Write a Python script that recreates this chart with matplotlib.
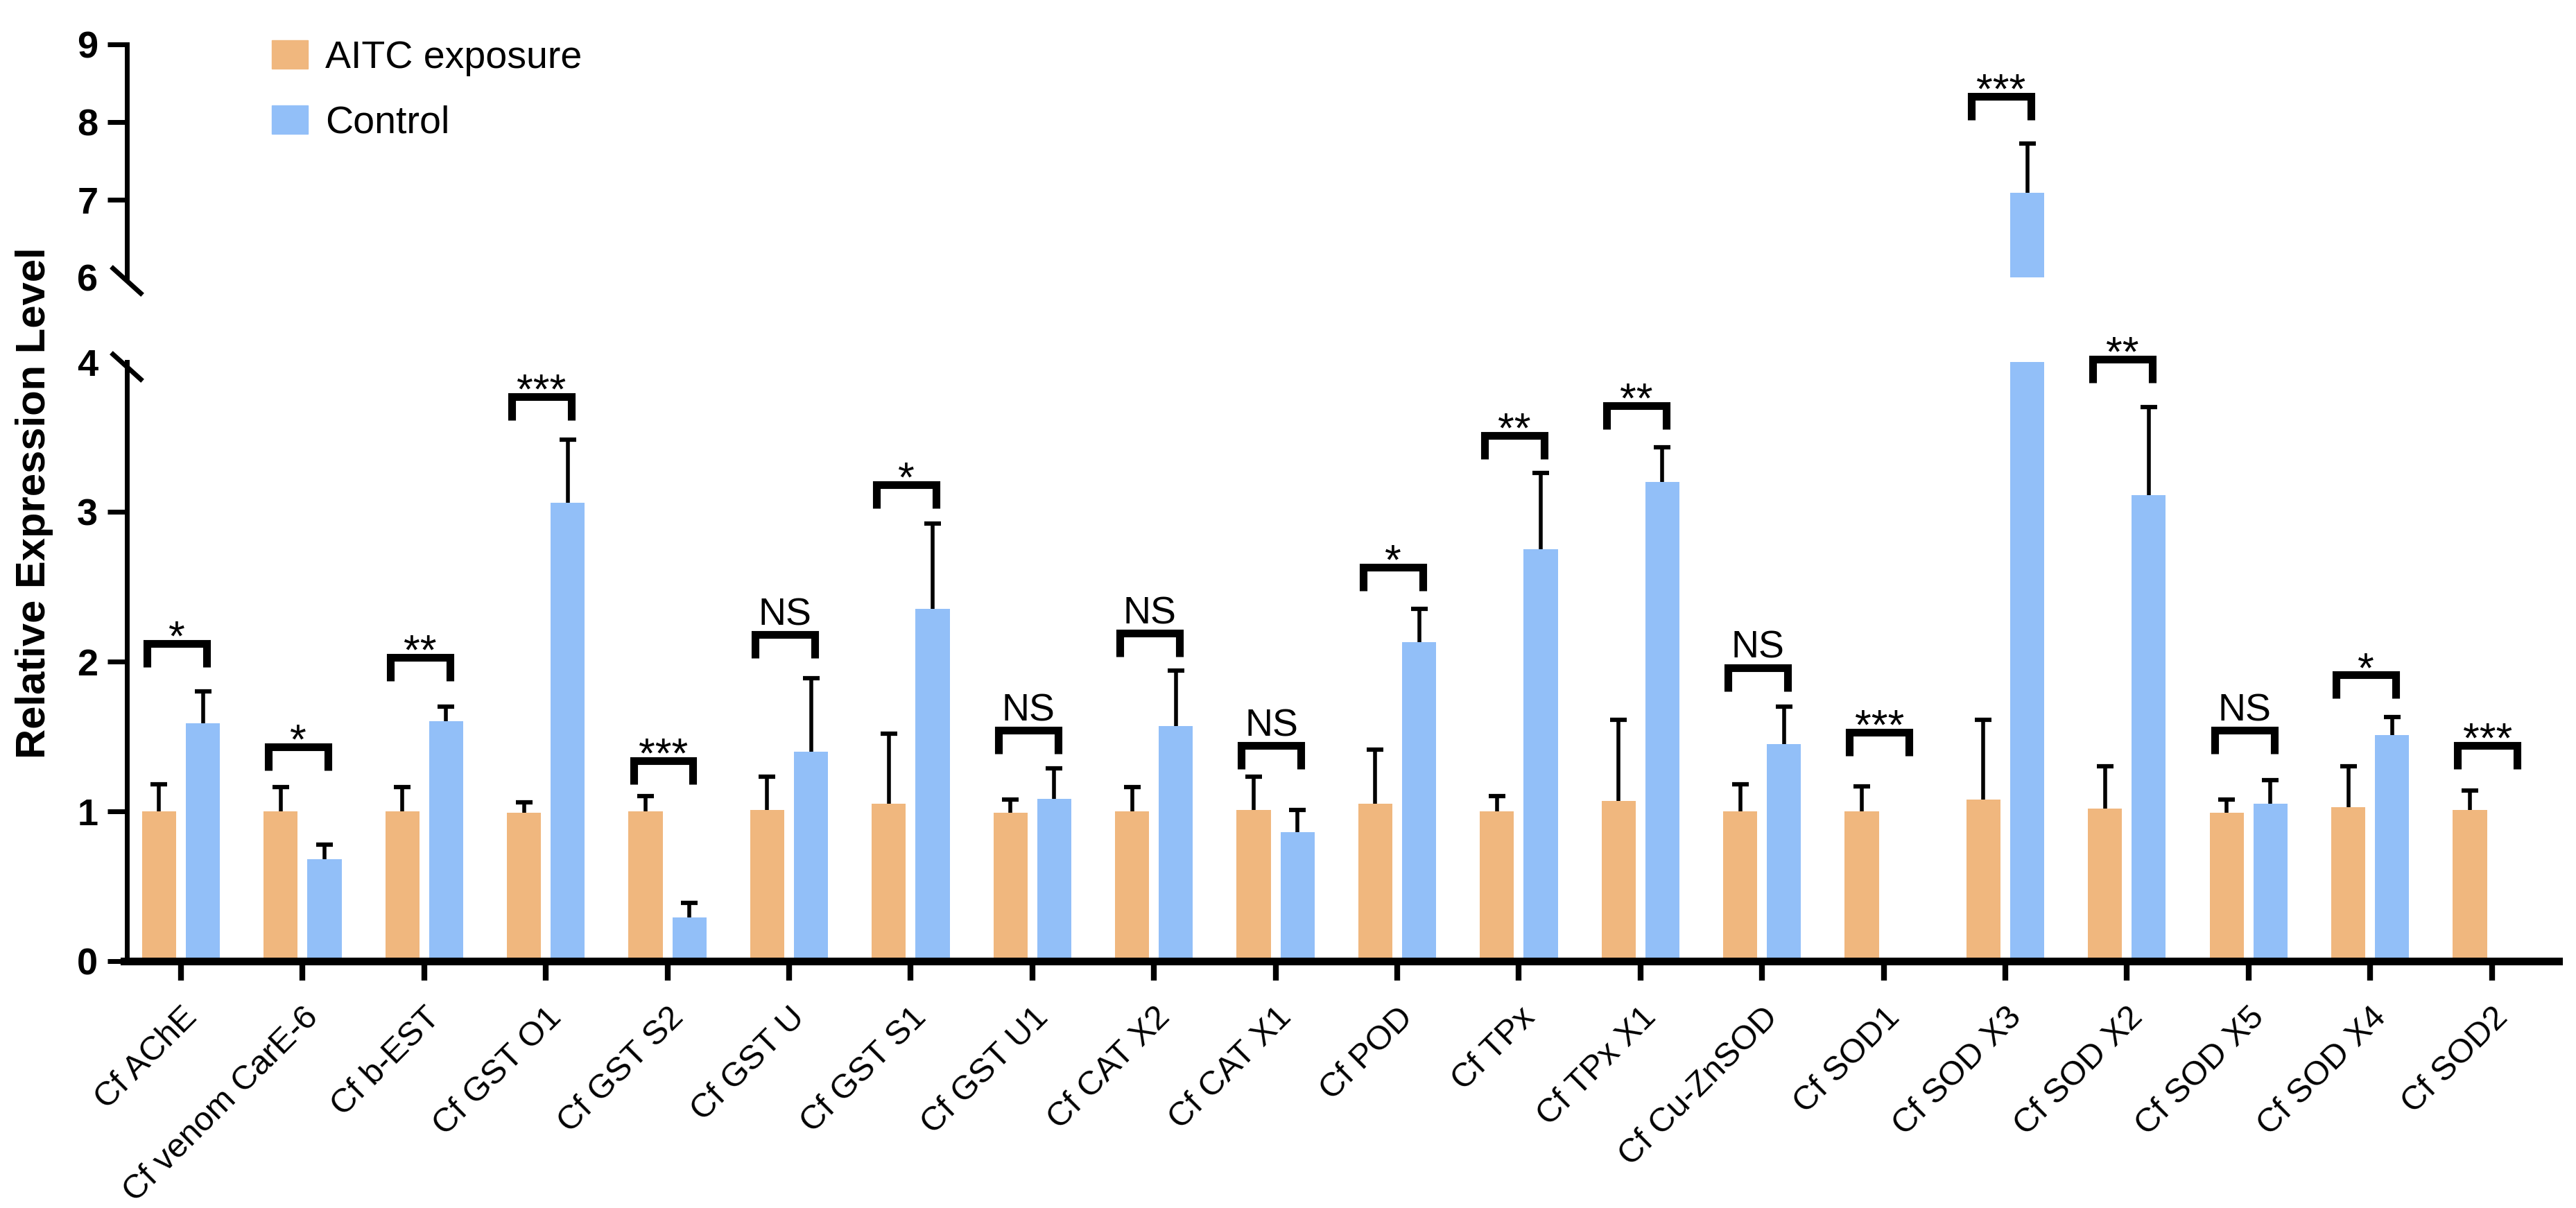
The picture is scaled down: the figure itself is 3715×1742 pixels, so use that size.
import matplotlib
matplotlib.use("Agg")
import matplotlib.pyplot as plt
from matplotlib.lines import Line2D
from matplotlib.patches import Patch
import numpy as np

plt.rcParams['font.family'] = ['Liberation Sans', 'DejaVu Sans']

genes = ["Cf AChE", "Cf venom CarE-6", "Cf b-EST", "Cf GST O1", "Cf GST S2",
         "Cf GST U", "Cf GST S1", "Cf GST U1", "Cf CAT X2", "Cf CAT X1",
         "Cf POD", "Cf TPx", "Cf TPx X1", "Cf Cu-ZnSOD", "Cf SOD1",
         "Cf SOD X3", "Cf SOD X2", "Cf SOD X5", "Cf SOD X4", "Cf SOD2"]

aitc_mean = [1.00, 1.00, 1.00, 0.99, 1.00, 1.01, 1.05, 0.99, 1.00, 1.01,
             1.05, 1.00, 1.07, 1.00, 1.00, 1.08, 1.02, 0.99, 1.03, 1.01]
aitc_sd = [0.18, 0.16, 0.16, 0.07, 0.10, 0.22, 0.47, 0.09, 0.16, 0.22,
           0.36, 0.10, 0.54, 0.18, 0.165, 0.53, 0.28, 0.09, 0.27, 0.13]
ctrl_mean = [1.59, 0.68, 1.60, 3.06, 0.29, 1.40, 2.35, 1.085, 1.57, 0.86,
             2.13, 2.75, 3.20, 1.45, np.nan, 7.09, 3.11, 1.05, 1.51, np.nan]
ctrl_sd = [0.21, 0.10, 0.10, 0.42, 0.10, 0.49, 0.57, 0.20, 0.37, 0.15,
           0.22, 0.51, 0.23, 0.25, np.nan, 0.63, 0.59, 0.16, 0.12, np.nan]

sig_labels = ["*", "*", "**", "***", "***", "NS", "*", "NS", "NS", "NS",
              "*", "**", "**", "NS", "***", "***", "**", "NS", "*", "***"]
sig_y = [2.12, 1.43, 2.03, 3.77, 1.34, 2.18, 3.18, 1.54, 2.19, 1.44,
         2.63, 3.51, 3.71, 1.96, 1.53, 8.33, 4.02, 1.54, 1.91, 1.44]

orange = '#F0B77E'
blue = '#92BFF8'

W, H = 3716, 1742
DPI = 100
fig = plt.figure(figsize=(W / DPI, H / DPI), dpi=DPI)

left, right = 183, 3690
low_bot, low_top = 1386, 522
up_bot, up_top = 400, 64
ax = fig.add_axes([left / W, 1 - low_bot / H, (right - left) / W, (low_bot - low_top) / H])
ax_up = fig.add_axes([left / W, 1 - up_bot / H, (right - left) / W, (up_bot - up_top) / H])

x = np.arange(len(genes))
off = 0.18
bw = 0.28


def upper_error(a, xs, means, sds):
    # only the upper half of the error bar, with a cap at the top
    m = np.array(means, dtype=float)
    s = np.array(sds, dtype=float)
    ok = ~np.isnan(m)
    a.vlines(xs[ok], m[ok], m[ok] + s[ok], color='black', lw=4, zorder=3)
    a.plot(xs[ok], m[ok] + s[ok], ls='none', marker='_', ms=17, mew=4.5,
           color='black', zorder=3)


for a in (ax, ax_up):
    a.bar(x - off, aitc_mean, bw, color=orange, zorder=2)
    a.bar(x + off, ctrl_mean, bw, color=blue, zorder=2)
    upper_error(a, x - off, aitc_mean, aitc_sd)
    upper_error(a, x + off, ctrl_mean, ctrl_sd)
    a.set_xlim(-0.445, 19.55)
    a.spines['top'].set_visible(False)
    a.spines['right'].set_visible(False)
    a.spines['left'].set_linewidth(5)
    a.tick_params(axis='y', width=5, length=20, pad=10, labelsize=39)

ax.set_ylim(0, 4)
ax.set_yticks([0, 1, 2, 3, 4])
ax.set_yticklabels(['0', '1', '2', '3', '4'], fontweight='bold', fontsize=39)
ax.yaxis.get_major_ticks()[-1].tick1line.set_visible(False)
ax.spines['bottom'].set_linewidth(8)
ax.spines['bottom'].set_bounds(-0.47, 19.55)
ax.set_xticks(x)
ax.set_xticklabels(genes, rotation=45, ha='right', va='top', rotation_mode='anchor', fontsize=35)
ax.tick_params(axis='x', width=6, length=20, pad=22)

ax_up.set_ylim(6, 9)
ax_up.set_yticks([6, 7, 8, 9])
ax_up.set_yticklabels(['6', '7', '8', '9'], fontweight='bold', fontsize=39)
ax_up.yaxis.get_major_ticks()[0].tick1line.set_visible(False)
ax_up.spines['bottom'].set_visible(False)
ax_up.set_xticks([])

# break marks on the y axis
for yp in (low_top + 7, up_bot + 5):
    fig.add_artist(Line2D([(left - 20) / W, (left + 20) / W],
                          [1 - (yp - 18) / H, 1 - (yp + 18) / H],
                          transform=fig.transFigure, color='black', lw=5))

# significance brackets
px_low = (low_bot - low_top) / 4
px_up = (up_bot - up_top) / 3
for i, (lab, yb) in enumerate(zip(sig_labels, sig_y)):
    a = ax_up if yb > 5 else ax
    leg = 34 / (px_up if yb > 5 else px_low)
    x0, x1 = i - 0.28, i + 0.21
    a.plot([x0, x0, x1, x1], [yb - leg, yb, yb, yb - leg], color='black', lw=8,
           solid_joinstyle='miter', solid_capstyle='butt', clip_on=False, zorder=4)
    if lab == 'NS':
        a.annotate(lab, xy=((x0 + x1) / 2, yb), xytext=(0, 10), textcoords='offset points',
                   ha='center', va='baseline', fontsize=40, annotation_clip=False)
    else:
        a.annotate(lab, xy=((x0 + x1) / 2, yb), xytext=(0, -7), textcoords='offset points',
                   ha='center', va='baseline', fontsize=44, annotation_clip=False)

fig.text(50 / W, 1 - 725 / H, 'Relative Expression Level', rotation=90,
         ha='center', va='center', fontsize=43, fontweight='bold')

handles = [Patch(color=orange, label='AITC exposure'), Patch(color=blue, label='Control')]
fig.legend(handles=handles, loc='upper left', bbox_to_anchor=(392 / W, 1 - 58 / H),
           frameon=False, fontsize=40, handlelength=0.94, handleheight=0.77,
           handletextpad=0.45, labelspacing=0.75, borderpad=0, borderaxespad=0)

fig.savefig('out.png', dpi=DPI)
